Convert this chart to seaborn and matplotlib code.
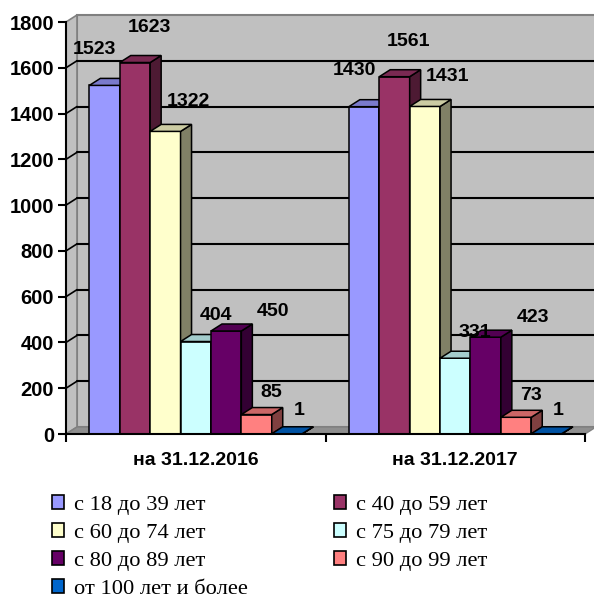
import numpy as np
import pandas as pd
import seaborn as sns
import matplotlib.pyplot as plt
from matplotlib.patches import Polygon, Patch
from matplotlib.colors import to_rgb

dates = ['на 31.12.2016', 'на 31.12.2017']
groups = ['с 18 до 39 лет', 'с 40 до 59 лет', 'с 60 до 74 лет', 'с 75 до 79 лет',
          'с 80 до 89 лет', 'с 90 до 99 лет', 'от 100 лет и более']
vals_2016 = [1523, 1623, 1322, 404, 450, 85, 1]
vals_2017 = [1430, 1561, 1431, 331, 423, 73, 1]
colors = ['#9999FF', '#993366', '#FFFFCC', '#CCFFFF', '#660066', '#FF8080', '#0066CC']
yticks = [0, 200, 400, 600, 800, 1000, 1200, 1400, 1600, 1800]

# label offsets in pixels (dx, dy) per series, as Excel placed them
lab_off = [(-10, 36), (14, 35), (23, 30), (20, 26), (47, 20), (15, 22), (12, 23)]

df = pd.DataFrame({
    'date': np.repeat(dates, len(groups)),
    'group': groups * 2,
    'value': vals_2016 + vals_2017,
})

sns.set_style('white')
plt.rcParams['font.family'] = ['Liberation Sans', 'DejaVu Sans']
plt.rcParams['font.weight'] = 'bold'
plt.rcParams['text.color'] = 'black'
plt.rcParams['xtick.color'] = 'black'
plt.rcParams['ytick.color'] = 'black'

fig = plt.figure(figsize=(5.94, 5.99), dpi=100)
W, H = 594, 599
ax = fig.add_axes([66 / W, (H - 434) / H, 519 / W, 412 / H])
ax.set_facecolor('none')

sns.barplot(data=df, x='date', y='value', hue='group', hue_order=groups,
            palette=colors, width=0.82, gap=0, saturation=1,
            edgecolor='black', linewidth=1.1, legend=False, ax=ax)
ax.set_xlim(-0.5, 1.5)
ax.set_ylim(0, 1800)

# depth offset in data units (11 px right, 7 px up)
px_x = (ax.transData.transform((1, 0))[0] - ax.transData.transform((0, 0))[0])
px_y = (ax.transData.transform((0, 100))[1] - ax.transData.transform((0, 0))[1]) / 100
ddx = 11 / px_x
ddy = 7 / px_y
x0, x1 = -0.5, 1.5

# walls, floor and gridlines
wall = '#C0C0C0'
ax.add_patch(Polygon([(x0 + ddx, ddy), (x1 + ddx, ddy), (x1 + ddx, 1800 + ddy), (x0 + ddx, 1800 + ddy)],
                     closed=True, fc=wall, ec='#808080', lw=1.5, zorder=0.5, clip_on=False))
ax.add_patch(Polygon([(x0, 0), (x0 + ddx, ddy), (x0 + ddx, 1800 + ddy), (x0, 1800)],
                     closed=True, fc=wall, ec='#808080', lw=1.2, zorder=0.6, clip_on=False))
ax.add_patch(Polygon([(x0, 0), (x1, 0), (x1 + ddx, ddy), (x0 + ddx, ddy)],
                     closed=True, fc='#8F8F8F', ec='#808080', lw=1, zorder=0.7, clip_on=False))
for y in yticks[1:-1]:
    ax.plot([x0 + ddx, x1 + ddx], [y + ddy, y + ddy], color='black', lw=1.5, zorder=0.8, clip_on=False)
    ax.plot([x0, x0 + ddx], [y, y + ddy], color='black', lw=1.2, zorder=0.8, clip_on=False)

# 3D faces for each bar, drawn left to right
bars = []
for i, cont in enumerate(ax.containers):
    for b in cont.patches:
        bars.append((b.get_x(), i, b))
bars.sort(key=lambda t: t[0])
for k, (bx, i, b) in enumerate(bars):
    z = 3 + 0.01 * k
    b.set_zorder(z)
    b.set_clip_on(False)
    w = b.get_width()
    h = b.get_height()
    c = np.array(to_rgb(colors[i]))
    top = Polygon([(bx, h), (bx + w, h), (bx + w + ddx, h + ddy), (bx + ddx, h + ddy)],
                  closed=True, fc=c * 0.8, ec='black', lw=1.1, zorder=z + 0.001, clip_on=False)
    side = Polygon([(bx + w, 0), (bx + w, h), (bx + w + ddx, h + ddy), (bx + w + ddx, ddy)],
                   closed=True, fc=c * 0.5, ec='black', lw=1.1, zorder=z + 0.001, clip_on=False)
    ax.add_patch(side)
    ax.add_patch(top)
    dx, dy = lab_off[i]
    ax.annotate(f'{int(h)}', (bx + w / 2, h), xytext=(dx, dy), textcoords='offset pixels',
                ha='center', va='center', fontsize=14, fontweight='bold', color='black',
                zorder=10, annotation_clip=False)

# axes spines and ticks
for s in ['top', 'right']:
    ax.spines[s].set_visible(False)
for s in ['left', 'bottom']:
    ax.spines[s].set_color('black')
    ax.spines[s].set_linewidth(1.5)
    ax.spines[s].set_zorder(5)
ax.set_yticks(yticks)
ax.set_yticklabels([str(v) for v in yticks])
ax.set_xticks([-0.5, 0.5, 1.5])
ax.set_xticklabels([])
ax.set_xticks([0, 1], minor=True)
ax.set_xticklabels(dates, minor=True)
ax.tick_params(axis='y', length=6, width=1.5, color='black', direction='out', pad=2.5, left=True,
               labelsize=14.5)
ax.tick_params(axis='x', which='major', length=6, width=1.5, color='black', direction='out', bottom=True)
ax.tick_params(axis='x', which='minor', length=0, pad=13, labelsize=14)
for t in ax.get_yticklabels() + ax.get_xticklabels(minor=True):
    t.set_fontweight('bold')
ax.set_xlabel('')
ax.set_ylabel('')

# legend, filled row by row
handles = [Patch(facecolor=c, edgecolor='black', lw=1.2) for c in colors]
order = [0, 2, 4, 6, 1, 3, 5]
fig.legend([handles[j] for j in order], [groups[j] for j in order],
           loc='upper left', bbox_to_anchor=(52 / W, 1 - 495 / H), ncol=2, frameon=False,
           prop={'family': 'Liberation Serif', 'size': 16.2, 'weight': 'normal'},
           handlelength=0.55, handleheight=0.55, handletextpad=0.45,
           columnspacing=3.8, labelspacing=0.37, borderpad=0, borderaxespad=0)

fig.savefig('out.png', dpi=100)
